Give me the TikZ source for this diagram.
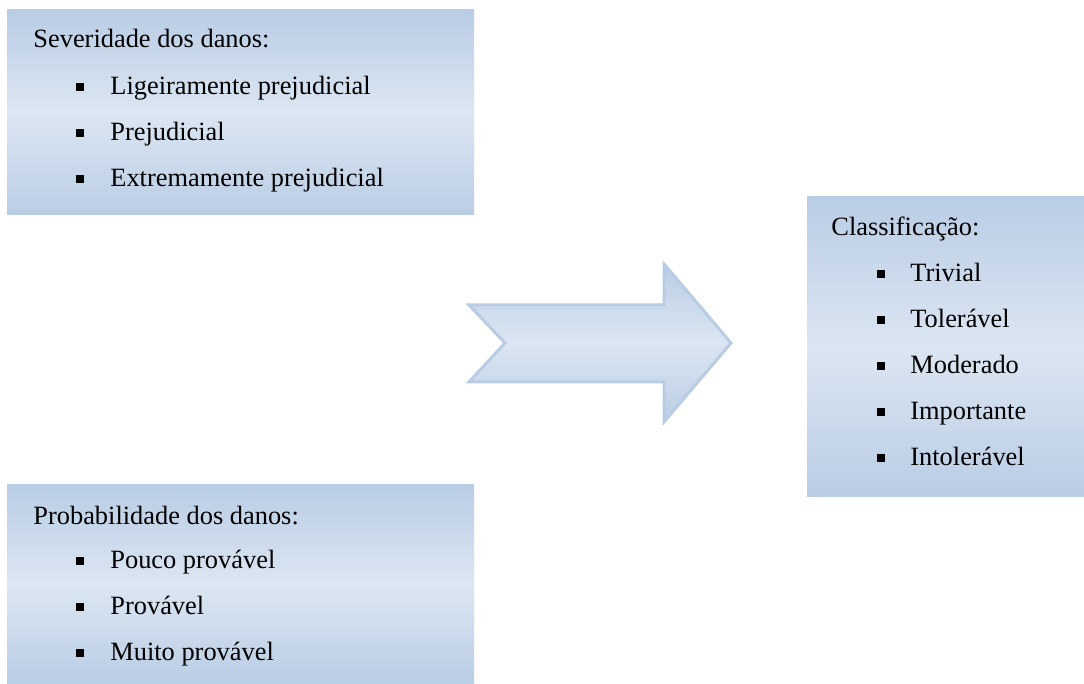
\documentclass[tikz,border=0pt]{standalone}
\usepackage{fontspec}
\setmainfont{Liberation Serif}
\usepackage{tikz}
\usetikzlibrary{positioning,shapes,shadings}

\definecolor{panedge}{HTML}{B9CDE5}
\definecolor{panmid}{HTML}{DCE6F2}
\definecolor{arrline}{HTML}{B8CCE4}

\begin{document}
\begin{tikzpicture}
[x=0.5pt,y=-0.5pt]

    \tikzstyle{panel}=[rectangle,inner sep=0pt,top color=panedge,
                       bottom color=panedge,middle color=panmid]
    \tikzstyle{txt}=[anchor=base west,inner sep=0pt,
                     font=\fontsize{13.2}{16}\selectfont]
    \tikzstyle{sq}=[rectangle,fill=black,minimum size=3.6pt,inner sep=0pt]

    \useasboundingbox (0,0) rectangle (1084,684);

    % the three panels
    \node (sevbox) [panel,minimum width=233.5pt,minimum height=102.5pt]
        at (240.5,112.5) {};
    \node (probbox) [panel,minimum width=233.5pt,minimum height=99.5pt]
        at (240.5,584.5) {};
    \node (clasbox) [panel,minimum width=138.5pt,minimum height=150pt]
        at (945.5,347) {};

    % the big arrow in the middle
    \shade[top color=panedge,bottom color=panedge,middle color=panmid,
           draw=arrline,line width=1.5pt,line join=miter]
        (469,305) -- (505,343) -- (469,382) -- (664,382) -- (664,422)
        -- (731,343) -- (664,264) -- (664,305) -- cycle;

    % Severidade
    \node (sevt) [txt] at (33,48) {Severidade dos danos:};
    \node (sev1) [txt] at (110,95) {Ligeiramente prejudicial};
    \node (sev2) [txt] at (110,141) {Prejudicial};
    \node (sev3) [txt] at (110,187) {Extremamente prejudicial};
    \node (sevb1) [sq] at (80,87) {};
    \node (sevb2) [sq] at (80,133) {};
    \node (sevb3) [sq] at (80,179) {};

    % Probabilidade
    \node (probt) [txt] at (33,525) {Probabilidade dos danos:};
    \node (prob1) [txt] at (110,569) {Pouco prov\'avel};
    \node (prob2) [txt] at (110,615) {Prov\'avel};
    \node (prob3) [txt] at (110,661) {Muito prov\'avel};
    \node (probb1) [sq] at (80,561) {};
    \node (probb2) [sq] at (80,607) {};
    \node (probb3) [sq] at (80,653) {};

    % Classificacao
    \node (clast) [txt] at (831,236) {Classifica\c{c}\~ao:};
    \node (clas1) [txt] at (910,282) {Trivial};
    \node (clas2) [txt] at (910,328) {Toler\'avel};
    \node (clas3) [txt] at (910,374) {Moderado};
    \node (clas4) [txt] at (910,420) {Importante};
    \node (clas5) [txt] at (910,466) {Intoler\'avel};
    \node (clasb1) [sq] at (881,274) {};
    \node (clasb2) [sq] at (881,320) {};
    \node (clasb3) [sq] at (881,366) {};
    \node (clasb4) [sq] at (881,412) {};
    \node (clasb5) [sq] at (881,458) {};

 \end{tikzpicture}
\end{document}
